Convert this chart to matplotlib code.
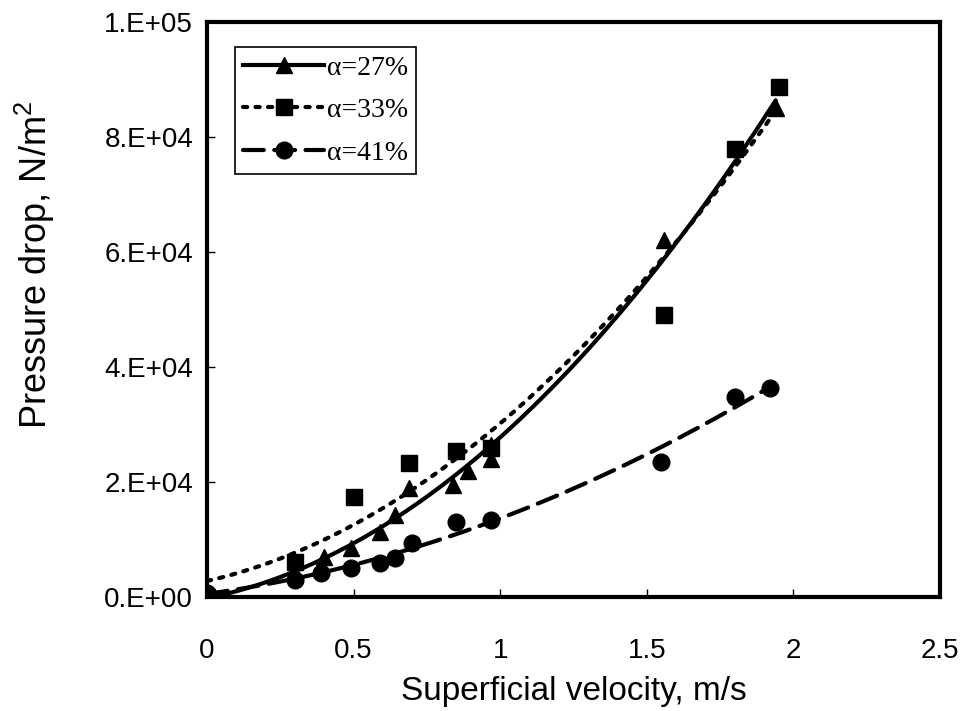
# -*- coding: UTF-8 -*-
import numpy as np
import matplotlib
matplotlib.use("Agg")
import matplotlib.pyplot as plt

plt.rcParams['font.family'] = ['Liberation Sans', 'DejaVu Sans']
plt.rcParams['mathtext.fontset'] = 'custom'
plt.rcParams['mathtext.rm'] = 'Liberation Sans'

# alpha = 27 %  (triangles)
x27 = [0.0, 0.30, 0.40, 0.49, 0.59, 0.64, 0.69, 0.84, 0.89, 0.97, 0.97, 1.56, 1.94]
y27 = [0, 4300, 7000, 8500, 11300, 14300, 19000, 19500, 22000, 24000, 26400, 62100, 85000]
# alpha = 33 %  (squares)
x33 = [0.0, 0.30, 0.50, 0.69, 0.85, 0.97, 1.56, 1.80, 1.95]
y33 = [0, 6100, 17400, 23300, 25400, 26000, 49000, 78000, 88700]
# alpha = 41 %  (circles)
x41 = [0.0, 0.30, 0.39, 0.49, 0.59, 0.64, 0.70, 0.85, 0.97, 1.55, 1.80, 1.92]
y41 = [800, 3000, 4300, 5000, 5900, 6900, 9400, 13000, 13400, 23500, 34800, 36300]

labels = ['α=27%', 'α=33%', 'α=41%']
xticks = [0, 0.5, 1, 1.5, 2, 2.5]
xtick_labels = ['0', '0.5', '1', '1.5', '2', '2.5']
yticks = [0, 20000, 40000, 60000, 80000, 100000]
ytick_labels = ['0.E+00', '2.E+04', '4.E+04', '6.E+04', '8.E+04', '1.E+05']

fig = plt.figure(figsize=(9.63, 7.11), dpi=100)
ax = fig.add_axes([0.215, 0.160, 0.761, 0.809])

series = [
    (x27, y27, '^', '-', labels[0]),
    (x33, y33, 's', (0, (1.0, 2.0)), labels[1]),
    (x41, y41, 'o', (0, (5.0, 2.5)), labels[2]),
]
for xs, ys, mk, ls, lab in series:
    xs = np.array(xs); ys = np.array(ys)
    ax.plot(xs, ys, linestyle='none', marker=mk, color='black', markersize=12)
    # second order trendline through the points
    c = np.polyfit(xs, ys, 2)
    xf = np.linspace(0, xs.max(), 200)
    ax.plot(xf, np.polyval(c, xf), color='black', lw=3, linestyle=ls,
            dash_capstyle='round', solid_capstyle='round')
    ax.plot([], [], color='black', lw=3, linestyle=ls, marker=mk,
            markersize=12, label=lab, dash_capstyle='round')

ax.set_xlim(0, 2.5)
ax.set_ylim(0, 100000)
ax.set_xticks(xticks)
ax.set_xticklabels(xtick_labels)
ax.set_yticks(yticks)
ax.set_yticklabels(ytick_labels)
ax.tick_params(direction='in', length=6, width=1, labelsize=20)
ax.tick_params(axis='x', pad=29)
ax.tick_params(axis='y', pad=10)
for sp in ax.spines.values():
    sp.set_linewidth(3)

ax.set_xlabel('Superficial velocity, m/s', fontsize=24, labelpad=9)
ax.set_ylabel('Pressure drop, N/m$^{2}$', fontsize=26)
ax.yaxis.set_label_coords(-0.205, 0.577)

leg = ax.legend(loc='upper left', bbox_to_anchor=(0.038, 0.957), borderaxespad=0,
                prop={'family': 'Liberation Serif', 'size': 20}, handlelength=2.9,
                fancybox=False, framealpha=1, edgecolor='black',
                handletextpad=0.1, labelspacing=0.62, borderpad=0.3)
leg.get_frame().set_linewidth(1.2)

fig.savefig('out.png', dpi=100)
